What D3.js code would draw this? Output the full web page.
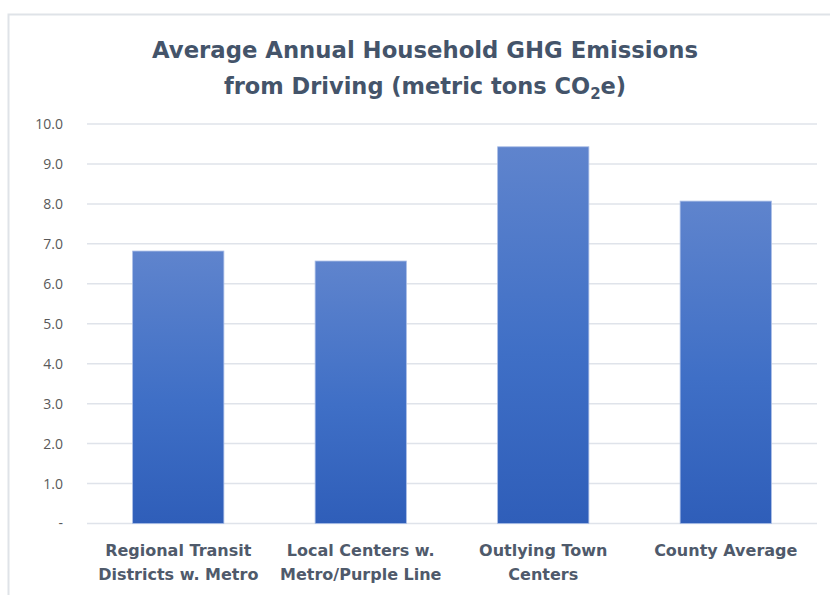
<!DOCTYPE html>
<html>
<head>
<meta charset="utf-8">
<script src="https://cdnjs.cloudflare.com/ajax/libs/d3/7.8.5/d3.min.js"></script>
<style>
  body { margin: 0; background: #fff; }
  text { font-family: "DejaVu Sans", "Liberation Sans", sans-serif; }
</style>
</head>
<body>
<div id="draw"></div>
<script>
// chart data
let categories = [
    ['Regional Transit', 'Districts w. Metro'],
    ['Local Centers w.', 'Metro/Purple Line'],
    ['Outlying Town', 'Centers'],
    ['County Average']
];
let values = [6.82, 6.57, 9.43, 8.07];
let tickValues = [0, 1, 2, 3, 4, 5, 6, 7, 8, 9, 10];
let tickLabels = ['-', '1.0', '2.0', '3.0', '4.0', '5.0', '6.0', '7.0', '8.0', '9.0', '10.0'];

let width = 830,
    height = 595,
    margin = { top: 124, left: 87, bottom: 72, right: 13 };

let svg = d3.select('#draw')
    .append('svg')
    .attr('width', width)
    .attr('height', height);

// outer chart border
svg.append('rect')
    .attr('x', 8.5).attr('y', 14.5)
    .attr('width', 900).attr('height', 700)
    .attr('fill', 'none')
    .attr('stroke', '#dfe3e8')
    .attr('stroke-width', 2);

let defs = svg.append('defs');
let grad = defs.append('linearGradient')
    .attr('id', 'barGrad')
    .attr('x1', 0).attr('y1', 0).attr('x2', 0).attr('y2', 1);
grad.append('stop').attr('offset', '0%').attr('stop-color', '#5f84cd');
grad.append('stop').attr('offset', '55%').attr('stop-color', '#3f6fc6');
grad.append('stop').attr('offset', '100%').attr('stop-color', '#2f5eb9');

// title
let title = svg.append('text')
    .attr('text-anchor', 'middle')
    .attr('fill', '#44546a')
    .style('font-weight', 'bold')
    .style('font-size', '23px');
title.append('tspan').attr('x', 425).attr('y', 58)
    .attr('textLength', 546).attr('lengthAdjust', 'spacingAndGlyphs')
    .text('Average Annual Household GHG Emissions');
let t2 = title.append('tspan').attr('x', 425).attr('y', 94).style('font-size', '22.5px');
t2.append('tspan').text('from Driving (metric tons CO');
t2.append('tspan').attr('dy', 5).style('font-size', '15px').text('2');
t2.append('tspan').attr('dy', -5).text('e)');

let w = width - margin.left - margin.right,
    h = height - margin.top - margin.bottom;

let g = svg.append('g')
    .attr('transform', 'translate(' + margin.left + ',' + margin.top + ')');

let xScale = d3.scaleBand().domain(d3.range(categories.length)).range([0, w]).paddingInner(0.5).paddingOuter(0.25),
    yScale = d3.scaleLinear().domain([0, 10]).range([h + 0.5, 0]);

// gridlines
g.append('g')
    .selectAll('line')
    .data(tickValues)
    .enter()
    .append('line')
    .attr('x1', 0).attr('x2', w)
    .attr('y1', d => yScale(d)).attr('y2', d => yScale(d))
    .attr('stroke', '#dfe3ea')
    .attr('stroke-width', 1.5);

// y axis labels
let yAxis = g.append('g')
    .call(d3.axisLeft(yScale).tickValues(tickValues).tickFormat((d, i) => tickLabels[i]).tickSize(0).tickPadding(24));
yAxis.select('.domain').remove();
yAxis.selectAll('text')
    .attr('fill', '#595959')
    .style('font-size', '14px')
    .style('font-family', '"Open Sans", "DejaVu Sans", sans-serif');

// bars
g.append('g')
    .selectAll('rect')
    .data(values)
    .enter()
    .append('rect')
    .attr('x', (d, i) => xScale(i))
    .attr('y', d => yScale(d))
    .attr('width', xScale.bandwidth())
    .attr('height', d => yScale(0) - yScale(d))
    .attr('fill', 'url(#barGrad)')
    .attr('stroke', '#a9bde6')
    .attr('stroke-width', 0.8);

// category labels
let labels = g.append('g')
    .selectAll('text')
    .data(categories)
    .enter()
    .append('text')
    .attr('text-anchor', 'middle')
    .attr('fill', '#4f5a6b')
    .style('font-weight', 'bold')
    .style('font-size', '16px');
labels.each(function (d, i) {
    d3.select(this).selectAll('tspan')
        .data(d)
        .enter()
        .append('tspan')
        .attr('x', xScale(i) + xScale.bandwidth() / 2)
        .attr('y', (l, j) => h + 33 + j * 24)
        .text(l => l);
});
</script>
</body>
</html>
